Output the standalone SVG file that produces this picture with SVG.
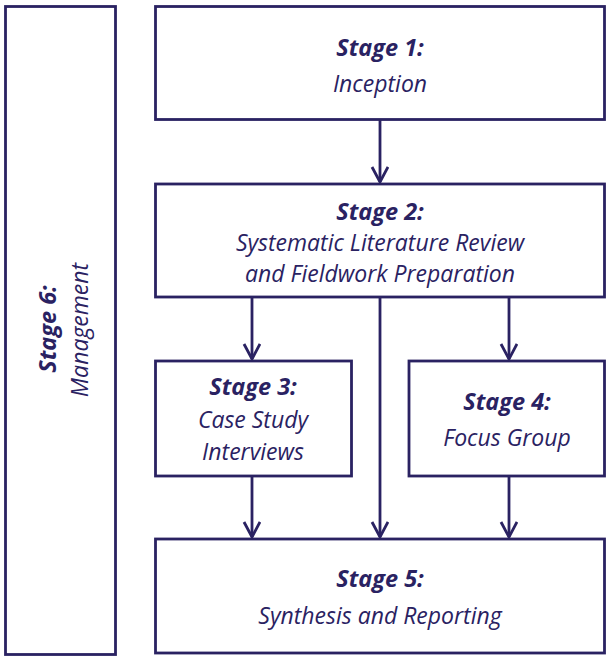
<svg xmlns="http://www.w3.org/2000/svg" width="607" height="657" viewBox="0 0 607 657">
<defs>
<marker id="arr" markerWidth="20" markerHeight="20" refX="16" refY="9" orient="auto" markerUnits="userSpaceOnUse">
<path d="M1,1 L16,9 L1,17" fill="none" stroke="#2a2262" stroke-width="2.8"/>
</marker>
<style>
.box{fill:#fff;stroke:#2a2262;stroke-width:2.8}
.t{font-family:"Open Sans","Noto Sans",sans-serif;font-style:italic;fill:#2a2262;text-anchor:middle;font-size:23px}
.b{font-weight:bold;font-size:23.5px}
.c{fill:none;stroke:#2a2262;stroke-width:2.8}
</style>
</defs>
<rect width="607" height="657" fill="#fff"/>
<g id="stage6">
<rect class="box" x="5.5" y="6.5" width="110" height="648"/>
<text class="t b" transform="translate(56,329) rotate(-90)">Stage 6:</text>
<text class="t" transform="translate(88,330) rotate(-90)">Management</text>
</g>
<g id="stage1">
<rect class="box" x="155.5" y="6.5" width="449" height="113"/>
<text class="t b" x="380" y="56">Stage 1:</text>
<text class="t" x="380" y="92">Inception</text>
</g>
<g id="stage2">
<rect class="box" x="155.5" y="184" width="449" height="113"/>
<text class="t b" x="380" y="220">Stage 2:</text>
<text class="t" x="380" y="251">Systematic Literature Review</text>
<text class="t" x="380" y="282">and Fieldwork Preparation</text>
</g>
<g id="stage3">
<rect class="box" x="155.5" y="361" width="196" height="115"/>
<text class="t b" x="253" y="395">Stage 3:</text>
<text class="t" x="253" y="428">Case Study</text>
<text class="t" x="253" y="460">Interviews</text>
</g>
<g id="stage4">
<rect class="box" x="409" y="361" width="195.5" height="115"/>
<text class="t b" x="507" y="410">Stage 4:</text>
<text class="t" x="507" y="446">Focus Group</text>
</g>
<g id="stage5">
<rect class="box" x="155.5" y="539" width="449" height="114"/>
<text class="t b" x="380" y="587">Stage 5:</text>
<text class="t" x="380" y="624">Synthesis and Reporting</text>
</g>
<g id="connectors">
<line class="c" x1="380" y1="120" x2="380" y2="182" marker-end="url(#arr)"/>
<line class="c" x1="252" y1="297" x2="252" y2="359" marker-end="url(#arr)"/>
<line class="c" x1="509" y1="297" x2="509" y2="359" marker-end="url(#arr)"/>
<line class="c" x1="380" y1="297" x2="380" y2="537" marker-end="url(#arr)"/>
<line class="c" x1="252" y1="476" x2="252" y2="537" marker-end="url(#arr)"/>
<line class="c" x1="509" y1="476" x2="509" y2="537" marker-end="url(#arr)"/>
</g>
</svg>
